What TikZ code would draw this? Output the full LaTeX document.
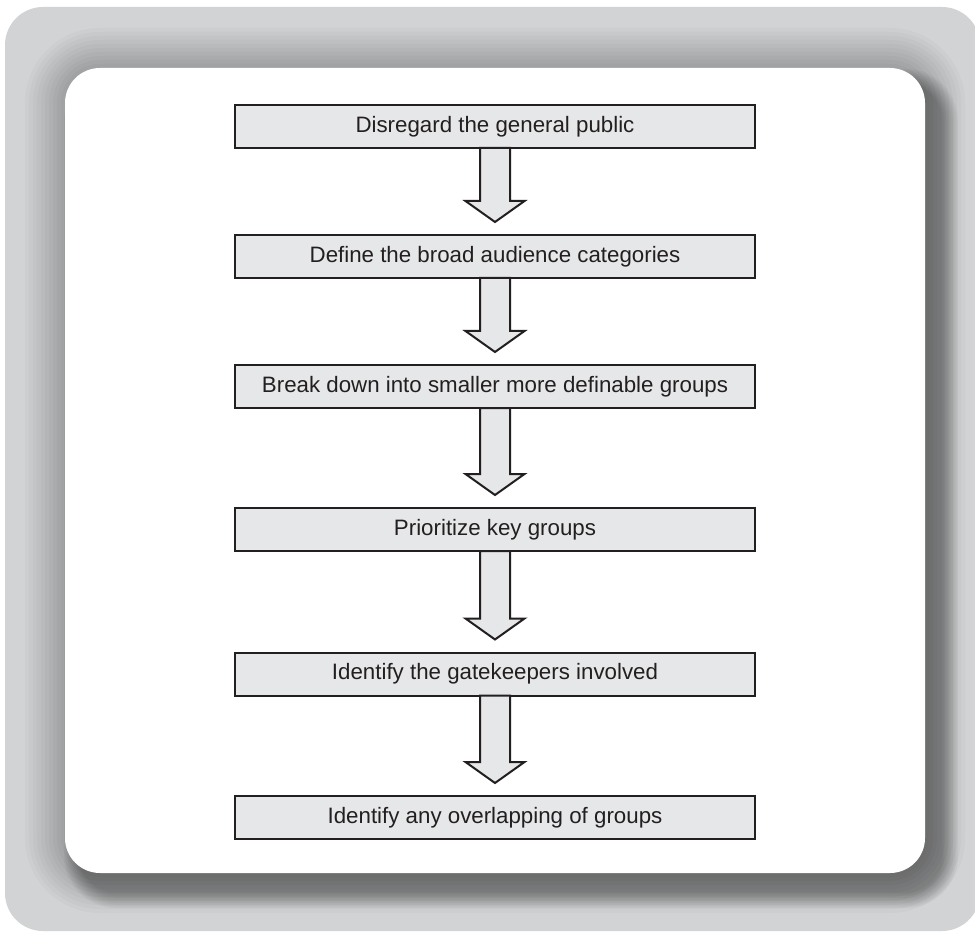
\documentclass[tikz,border=0pt]{standalone}
\usepackage{fontspec}
\setmainfont{Liberation Sans}
\usetikzlibrary{calc}
\definecolor{framegray}{HTML}{D1D3D4}
\definecolor{ink}{HTML}{231F20}
\definecolor{boxfill}{HTML}{E6E7E8}
\begin{document}
\begin{tikzpicture}[x=1pt,y=-1pt,
  stepbox/.style={draw=ink, line width=2pt, fill=boxfill, minimum width=520pt,
    minimum height=43pt, inner sep=0pt, outer sep=0pt, text=ink,
    font=\fontsize{22.3}{26}\selectfont},
  flowarrow/.style={draw=ink, line width=2pt, fill=boxfill, line join=miter}]
\useasboundingbox (0,0) rectangle (975,933);
% outer grey frame
\begin{scope}
  \clip (0,0) rectangle (975,933);
  \fill[framegray, rounded corners=38pt] (5,7) rectangle (980,931);
\end{scope}
% soft halo all round the panel
\foreach \i in {0,...,9}{
  \pgfmathsetmacro{\e}{40*(1-\i/10)}
  \pgfmathsetmacro{\rr}{35+\e}
  \fill[black, opacity=0.022, rounded corners=\rr pt]
    ({65-\e},{68-\e}) rectangle ({925+\e},{873+\e});
}
% darker drop shadow towards the lower right
\foreach \i in {0,...,9}{
  \pgfmathsetmacro{\e}{17*(1-\i/10)}
  \pgfmathsetmacro{\rr}{35+\e}
  \fill[black, opacity=0.034, rounded corners=\rr pt]
    ({81-\e},{86-\e}) rectangle ({941+\e},{891+\e});
}
% white panel
\fill[white, rounded corners=35pt] (65,68) rectangle (925,873);
% steps
\node[stepbox] (s1) at (495,126.5) {Disregard the general public};
\node[stepbox] (s2) at (495,256.5) {Define the broad audience categories};
\node[stepbox] (s3) at (495,386.5) {Break down into smaller more definable groups};
\node[stepbox] (s4) at (495,529.5) {Prioritize key groups};
\node[stepbox] (s5) at (495,674) {Identify the gatekeepers involved};
\node[stepbox] (s6) at (495,817.5) {Identify any overlapping of groups};
% block arrows between steps
\foreach \a/\b in {s1/s2,s2/s3,s3/s4,s4/s5,s5/s6}{
  \draw[flowarrow] ($(\a.south)+(-15,0)$) -- ($(\b.north)+(-15,-34)$)
    -- ($(\b.north)+(-29.5,-34)$) -- ($(\b.north)+(0,-13)$)
    -- ($(\b.north)+(29.5,-34)$) -- ($(\b.north)+(15,-34)$)
    -- ($(\a.south)+(15,0)$) -- cycle;
}
\end{tikzpicture}
\end{document}
